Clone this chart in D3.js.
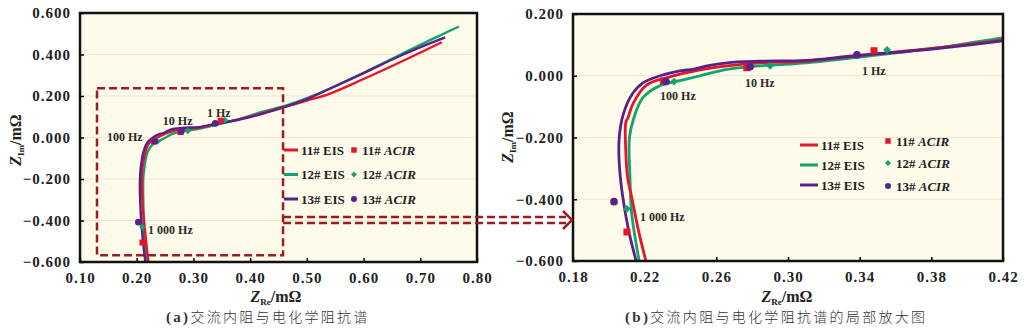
<!DOCTYPE html>
<html>
<head>
<meta charset="utf-8">
<script src="https://cdn.jsdelivr.net/npm/d3@7"></script>
<style>
  body { margin: 0; background: #fff; }
  svg { display: block; }
  text { font-family: "Liberation Serif", "DejaVu Serif", serif; }
</style>
</head>
<body>
<div id="container"></div>
<script>
// Nyquist curves [Z_Re, Z_Im] in mΩ, from high to low frequency
var eis11 = [[0.2235,-0.66],[0.2207,-0.60],[0.2165,-0.50],[0.2130,-0.40],[0.2105,-0.33],[0.2095,-0.25],[0.2095,-0.15],
  [0.2107,-0.136],[0.2135,-0.09],[0.2210,-0.03],[0.2325,-0.006],[0.2510,0.019],[0.2660,0.032],[0.2840,0.042],
  [0.3100,0.047],[0.3360,0.063],[0.3830,0.090],[0.4200,0.116],[0.4580,0.145],[0.5000,0.178],[0.5410,0.212],
  [0.6000,0.282],[0.6700,0.370],[0.7380,0.459]];
var eis12 = [[0.2185,-0.66],[0.2169,-0.60],[0.2140,-0.50],[0.2125,-0.43],[0.2118,-0.33],[0.2115,-0.20],[0.2140,-0.136],
  [0.2190,-0.071],[0.2286,-0.032],[0.2397,-0.016],[0.2510,0.0],[0.2620,0.016],[0.2730,0.026],[0.2840,0.032],
  [0.2955,0.036],[0.3100,0.042],[0.3360,0.058],[0.3830,0.090],[0.4200,0.123],[0.4580,0.150],[0.5000,0.190],
  [0.5410,0.236],[0.6000,0.312],[0.6800,0.420],[0.7680,0.535]];
var eis13 = [[0.2175,-0.66],[0.2152,-0.60],[0.2110,-0.50],[0.2073,-0.373],[0.2057,-0.27],[0.2058,-0.20],[0.2080,-0.126],
  [0.2130,-0.06],[0.2190,-0.023],[0.2286,0.0],[0.2397,0.016],[0.2470,0.021],[0.2548,0.032],[0.2660,0.042],
  [0.2840,0.047],[0.3100,0.050],[0.3360,0.064],[0.3830,0.088],[0.4200,0.113],[0.4580,0.145],[0.5000,0.185],
  [0.5410,0.236],[0.6000,0.310],[0.6700,0.400],[0.7440,0.482]];

// ACIR points at 1 000, 100, 10 and 1 Hz
var acir11 = [[0.2101,-0.506],[0.2305,-0.017],[0.2770,0.026],[0.3480,0.081]];
var acir12 = [[0.2101,-0.431],[0.2364,-0.019],[0.2900,0.032],[0.3553,0.084]];
var acir13 = [[0.2029,-0.408],[0.2319,-0.019],[0.2788,0.029],[0.3385,0.068]];
var freqLabels = ["1 000 Hz", "100 Hz", "10 Hz", "1 Hz"];

var xTicksA = [0.10, 0.20, 0.30, 0.40, 0.50, 0.60, 0.70, 0.80];
var yTicksA = [-0.6, -0.4, -0.2, 0.0, 0.2, 0.4, 0.6];
var xTicksB = [0.18, 0.22, 0.26, 0.30, 0.34, 0.38, 0.42];
var yTicksB = [-0.6, -0.4, -0.2, 0.0, 0.2];

var series = [
  { name: "12#", eis: eis12, acir: acir12, color: "#13a36e", shape: "diamond" },
  { name: "11#", eis: eis11, acir: acir11, color: "#e5152c", shape: "square" },
  { name: "13#", eis: eis13, acir: acir13, color: "#5a2187", shape: "circle" }
];
var legendOrder = ["11#", "12#", "13#"];

var svg = d3.select("#container").append("svg")
  .attr("width", 1024)
  .attr("height", 332);

var fmtY = d3.format(".3f"), fmtX = d3.format(".2f");

function drawPanel(p) {
  var x = d3.scaleLinear().domain(p.xDomain).range([p.left, p.right]);
  var y = d3.scaleLinear().domain(p.yDomain).range([p.bottom, p.top]);
  var g = svg.append("g");

  g.append("clipPath").attr("id", p.id + "-clip")
    .append("rect")
    .attr("x", p.left).attr("y", p.top)
    .attr("width", p.right - p.left).attr("height", p.bottom - p.top);

  g.append("rect")
    .attr("x", p.left).attr("y", p.top)
    .attr("width", p.right - p.left).attr("height", p.bottom - p.top)
    .attr("fill", "#fefbea");

  // horizontal grid
  g.selectAll(".grid").data(p.yTicks).enter().append("line")
    .attr("x1", p.left).attr("x2", p.right)
    .attr("y1", function(d) { return y(d); })
    .attr("y2", function(d) { return y(d); })
    .attr("stroke", "#ebe7d2").attr("stroke-width", 1);

  // axes with inward ticks
  var xAxis = d3.axisBottom(x).tickValues(p.xTicks).tickFormat(fmtX).tickSizeInner(-4).tickSizeOuter(0).tickPadding(10);
  var yAxis = d3.axisLeft(y).tickValues(p.yTicks).tickFormat(fmtY).tickSizeInner(-4).tickSizeOuter(0).tickPadding(9);
  var gx = g.append("g").attr("transform", "translate(0," + p.bottom + ")").call(xAxis);
  var gy = g.append("g").attr("transform", "translate(" + p.left + ",0)").call(yAxis);
  [gx, gy].forEach(function(a) {
    a.select(".domain").remove();
    a.selectAll(".tick line").attr("stroke", "#000").attr("stroke-width", 1.5);
    a.selectAll(".tick text")
      .attr("font-size", 15).attr("font-weight", "bold")
      .attr("letter-spacing", 1).attr("fill", "#222")
      .style("font-family", "'Liberation Serif', serif");
  });

  // curves
  var line = d3.line()
    .x(function(d) { return x(d[0]); })
    .y(function(d) { return y(d[1]); })
    .curve(d3.curveCatmullRom.alpha(0.5));
  var plot = g.append("g").attr("clip-path", "url(#" + p.id + "-clip)");
  series.forEach(function(s) {
    plot.append("path").datum(s.eis)
      .attr("d", line)
      .attr("fill", "none")
      .attr("stroke", s.color)
      .attr("stroke-width", p.lineWidth)
      .attr("stroke-linejoin", "round");
  });

  // ACIR markers
  series.forEach(function(s) {
    s.acir.forEach(function(d) {
      drawMarker(plot, s.shape, x(d[0]), y(d[1]), s.color, p.markSize);
    });
  });

  // frequency labels
  p.notes.forEach(function(n, i) {
    g.append("text")
      .attr("x", x(n[0])).attr("y", y(n[1]))
      .attr("font-size", 12).attr("font-weight", "bold").attr("fill", "#2a2a2a")
      .text(freqLabels[i]);
  });

  // frame
  g.append("rect")
    .attr("x", p.left).attr("y", p.top)
    .attr("width", p.right - p.left).attr("height", p.bottom - p.top)
    .attr("fill", "none").attr("stroke", "#111").attr("stroke-width", 2.5);

  // axis titles
  var xt = g.append("text")
    .attr("x", p.xTitle[0]).attr("y", p.xTitle[1])
    .attr("text-anchor", "middle").attr("font-size", 16).attr("font-weight", "bold").attr("fill", "#222");
  xt.append("tspan").attr("font-style", "italic").text("Z");
  xt.append("tspan").attr("font-size", 9).attr("dy", 3).text("Re");
  xt.append("tspan").attr("dy", -3).text("/m\u03a9");

  var yt = g.append("text")
    .attr("transform", "translate(" + p.yTitle[0] + "," + p.yTitle[1] + ") rotate(-90)")
    .attr("text-anchor", "middle").attr("font-size", 16).attr("font-weight", "bold").attr("fill", "#222");
  yt.append("tspan").attr("font-style", "italic").text("Z");
  yt.append("tspan").attr("font-size", 9).attr("dy", 3).text("Im");
  yt.append("tspan").attr("dy", -3).text("/m\u03a9");

  // caption
  var cap = g.append("text")
    .attr("x", p.caption[0]).attr("y", p.caption[1])
    .attr("font-size", 15).attr("fill", "#333").attr("letter-spacing", 2.3);
  cap.append("tspan").attr("font-weight", "bold").text(p.captionTag);
  cap.append("tspan").style("font-family", "'Noto Sans CJK SC', sans-serif")
    .attr("font-size", 14).attr("font-weight", 300).text(p.captionText);

  // legend
  legendOrder.forEach(function(name, i) {
    var s = series.find(function(t) { return t.name === name; });
    var ly = p.legend.y + i * p.legend.step;
    g.append("line")
      .attr("x1", p.legend.x0).attr("x2", p.legend.x1)
      .attr("y1", ly).attr("y2", ly)
      .attr("stroke", s.color).attr("stroke-width", 3);
    g.append("text")
      .attr("x", p.legend.x1 + 3).attr("y", ly + 4.5)
      .attr("font-size", 13).attr("font-weight", "bold").attr("fill", "#222")
      .text(name + " EIS");
    var my = ly + p.legend.markDy[i];
    drawMarker(g, s.shape, p.legend.mx, my, s.color, 5.5);
    var t = g.append("text")
      .attr("x", p.legend.mx + 8).attr("y", my + 4.5)
      .attr("font-size", 13).attr("font-weight", "bold").attr("fill", "#222");
    t.append("tspan").text(name + " ");
    t.append("tspan").attr("font-style", "italic").text("ACIR");
  });

  return { x: x, y: y };
}

function drawMarker(parent, shape, cx, cy, color, size) {
  if (shape === "square") {
    parent.append("rect")
      .attr("x", cx - size / 2).attr("y", cy - size / 2)
      .attr("width", size).attr("height", size).attr("fill", color);
  } else if (shape === "diamond") {
    var h = size * 0.55;
    parent.append("path")
      .attr("d", "M" + cx + "," + (cy - h) + "L" + (cx + h) + "," + cy + "L" + cx + "," + (cy + h) + "L" + (cx - h) + "," + cy + "Z")
      .attr("fill", color);
  } else {
    parent.append("circle").attr("cx", cx).attr("cy", cy).attr("r", size * 0.55).attr("fill", color);
  }
}

var panelA = drawPanel({
  id: "a", left: 80, right: 477, top: 13, bottom: 262,
  xDomain: [0.10, 0.80], yDomain: [-0.6, 0.6],
  xTicks: xTicksA, yTicks: yTicksA, lineWidth: 2.4, markSize: 6,
  notes: [[0.220, -0.467], [0.1476, -0.019], [0.246, 0.058], [0.324, 0.101]],
  xTitle: [276, 302], yTitle: [21, 140],
  caption: [166, 322], captionTag: "(a)", captionText: "交流内阻与电化学阻抗谱",
  legend: { x0: 284, x1: 298, mx: 354, y: 150, step: 24.5, markDy: [0, 0, 0] }
});

var panelB = drawPanel({
  id: "b", left: 573, right: 1003, top: 14, bottom: 261,
  xDomain: [0.18, 0.42], yDomain: [-0.6, 0.2],
  xTicks: xTicksB, yTicks: yTicksB, lineWidth: 2.8, markSize: 7,
  notes: [[0.2174, -0.47], [0.2286, -0.078], [0.276, -0.036], [0.3413, 0.003]],
  xTitle: [787, 302], yTitle: [513, 137],
  caption: [625, 322], captionTag: "(b)", captionText: "交流内阻与电化学阻抗谱的局部放大图",
  legend: { x0: 800, x1: 818, mx: 888, y: 145, step: 20, markDy: [-4, -2, 1] }
});

// zoom window on panel (a) and the arrow pointing to panel (b)
var boxColor = "#9c1c22";
svg.append("rect")
  .attr("x", panelA.x(0.13)).attr("y", panelA.y(0.237))
  .attr("width", panelA.x(0.458) - panelA.x(0.13))
  .attr("height", panelA.y(-0.568) - panelA.y(0.237))
  .attr("fill", "none").attr("stroke", boxColor)
  .attr("stroke-width", 2.5).attr("stroke-dasharray", "8,4");

var arrowY = [217, 223];
arrowY.forEach(function(ay) {
  svg.append("line")
    .attr("x1", panelA.x(0.458)).attr("x2", 566)
    .attr("y1", ay).attr("y2", ay)
    .attr("stroke", boxColor).attr("stroke-width", 2.5).attr("stroke-dasharray", "8,4");
});
svg.append("path")
  .attr("d", "M563,211L572,220L563,229")
  .attr("fill", "none").attr("stroke", boxColor).attr("stroke-width", 2.5);
</script>
</body>
</html>
